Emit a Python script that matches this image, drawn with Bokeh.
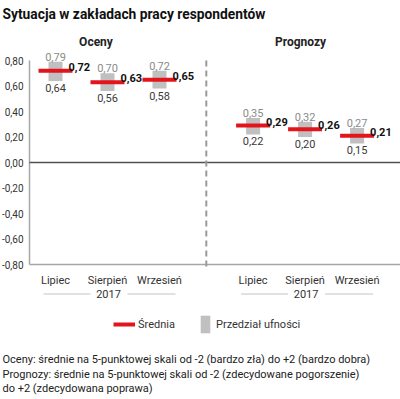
from bokeh.plotting import figure
from bokeh.models import (ColumnDataSource, Range1d, FixedTicker, Label,
                          Arrow, Legend, LegendItem)
from bokeh.core.properties import value
from bokeh.embed import file_html
from bokeh.resources import INLINE

# ---------------- data ----------------
title_text = "Sytuacja w zakładach pracy respondentów"
groups = ["Oceny", "Prognozy"]
months = ["Lipiec", "Sierpień", "Wrzesień"]
year_label = "2017"
oceny_mean = [0.72, 0.63, 0.65]
oceny_low = [0.64, 0.56, 0.58]
oceny_high = [0.79, 0.70, 0.72]
prognozy_mean = [0.29, 0.26, 0.21]
prognozy_low = [0.22, 0.20, 0.15]
prognozy_high = [0.35, 0.32, 0.27]
y_ticks = [-0.8, -0.6, -0.4, -0.2, 0.0, 0.2, 0.4, 0.6, 0.8]
y_tick_labels = ["-0,80", "-0,60", "-0,40", "-0,20", "0,00", "0,20", "0,40", "0,60", "0,80"]
legend_labels = ["Średnia", "Przedział ufności"]
footnotes = [
    "Oceny: średnie na 5-punktowej skali od -2 (bardzo zła) do +2 (bardzo dobra)",
    "Prognozy: średnie na 5-punktowej skali od -2 (zdecydowane pogorszenie)",
    "do +2 (zdecydowana poprawa)",
]

# ---------------- layout (pixel grid -> data units) ----------------
W, H = 400, 399
PX_X = 52.0          # px per category step
PX_Y = 127.5         # px per 1.0 of value
X0_REF = 55.0        # x of first category
Y0_REF = 162.0       # y of value 0
AXIS_L = 29
GROUP_SHIFT = 3.8
FONT = "Roboto"


def dx(px):
    return (px - X0_REF) / PX_X


def dy(py):
    return (Y0_REF - py) / PX_Y


def fmt(v):
    return f"{v:.2f}".replace(".", ",")


pos = [i for i in range(len(months))] + [i + GROUP_SHIFT for i in range(len(months))]
means = oceny_mean + prognozy_mean
lows = oceny_low + prognozy_low
highs = oceny_high + prognozy_high
labels = months + months

box_hw = 7 / PX_X
line_hw = 17 / PX_X

src = ColumnDataSource(dict(
    x=pos, mean=means, low=lows, high=highs,
    left=[p_ - box_hw for p_ in pos], right=[p_ + box_hw for p_ in pos],
    x0=[p_ - line_hw for p_ in pos], x1=[p_ + line_hw for p_ in pos],
    t_mean=[fmt(v) for v in means], t_low=[fmt(v) for v in lows],
    t_high=[fmt(v) for v in highs],
))

p = figure(width=W, height=H,
           x_range=Range1d(dx(0), dx(W)),
           y_range=Range1d(dy(H), dy(0)),
           output_backend="svg", toolbar_location=None,
           min_border_left=0, min_border_right=0,
           min_border_top=0, min_border_bottom=0)
p.outline_line_color = None
p.xgrid.visible = False
p.ygrid.visible = False
p.background_fill_color = None
p.border_fill_color = None

# axes (kept inside the frame at fixed locations)
ya = p.yaxis[0]
ya.ticker = FixedTicker(ticks=y_ticks)
ya.major_label_overrides = {t: l for t, l in zip(y_ticks, y_tick_labels)}
ya.bounds = (y_ticks[0], y_ticks[-1])
ya.fixed_location = dx(AXIS_L)
xa = p.xaxis[0]
xa.ticker = FixedTicker(ticks=pos)
xa.major_label_overrides = {t: l for t, l in zip(pos, labels)}
xa.bounds = (dx(AXIS_L), dx(W))
xa.fixed_location = y_ticks[0]
for ax in (xa, ya):
    ax.axis_line_color = "#a6a6a6"
    ax.axis_line_width = 1.5
    ax.major_tick_line_color = None
    ax.minor_tick_line_color = None
    ax.major_label_text_font = FONT
    ax.major_label_text_font_size = "11px"
    ax.major_label_text_color = "#333333"
ya.major_label_text_font_size = "10px"
ya.major_label_standoff = 0
xa.major_label_standoff = 3

# zero line
p.add_layout(Arrow(end=None, x_start=dx(AXIS_L), y_start=0, x_end=dx(W), y_end=0,
                   line_color="#505050", line_width=1.5))

# divider between groups
div_x = (pos[2] + pos[3]) / 2
p.add_layout(Arrow(end=None, x_start=div_x, y_start=y_ticks[-1], x_end=div_x,
                   y_end=dy(268), line_color="#9a9a9a", line_width=2, line_dash="6 4"))

# marks
boxes = p.quad(left="left", right="right", bottom="low", top="high", source=src,
               fill_color="#c0c0c0", line_color=None)
lines = p.segment(x0="x0", x1="x1", y0="mean", y1="mean", source=src,
                  line_color="#e3141b", line_width=4)

# value labels
p.text(x="x", y="high", text="t_high", source=src, text_align="center",
       text_baseline="alphabetic", y_offset=-5, text_font=value(FONT),
       text_font_size="11px", text_color="#8a8a8a")
p.text(x="x", y="low", text="t_low", source=src, text_align="center",
       text_baseline="top", y_offset=3, text_font=value(FONT),
       text_font_size="11px", text_color="#3a3a3a")
p.text(x="x", y="mean", text="t_mean", source=src, text_align="left",
       text_baseline="alphabetic", x_offset=13, y_offset=-4, text_font=value(FONT),
       text_font_size="11px", text_font_style="bold", text_color="#111111")

# group titles
gsrc = ColumnDataSource(dict(x=[dx(95.5), dx(300)], y=[dy(41), dy(41)], t=groups))
p.text(x="x", y="y", text="t", source=gsrc, text_align="center", text_baseline="middle",
       text_font=value(FONT), text_font_size="12px", text_font_style="bold",
       text_color="#222222")

# year labels with side rules
for g in range(len(groups)):
    c = pos[g * len(months) + 1]
    yy = dy(293.5)
    p.add_layout(Label(x=c + 1 / PX_X, y=yy, text=year_label, text_align="center",
                       text_baseline="middle", text_font=FONT, text_font_size="11px",
                       text_color="#333333"))
    for a, b in ((-64, -17), (20, 68)):
        p.add_layout(Arrow(end=None, x_start=c + a / PX_X, y_start=yy,
                           x_end=c + b / PX_X, y_end=yy,
                           line_color="#c4c4c4", line_width=1))

# title
p.add_layout(Label(x=dx(2), y=dy(13), text=title_text, text_align="left",
                   text_baseline="middle", text_font=FONT, text_font_size="13.8px",
                   text_font_style="bold", text_color="#111111"))

# footnotes
for txt, yp in zip(footnotes, (359, 373.5, 388)):
    p.add_layout(Label(x=dx(2), y=dy(yp), text=txt, text_align="left",
                       text_baseline="middle", text_font=FONT, text_font_size="11px",
                       text_color="#222222"))

# legends (location in px from the frame's bottom-left corner)
leg1 = Legend(items=[LegendItem(label=legend_labels[0], renderers=[lines])],
              location=(113, H - 333), orientation="horizontal",
              glyph_width=22, glyph_height=18, label_height=18, label_standoff=3,
              padding=0, margin=0, spacing=0, border_line_color=None,
              background_fill_alpha=0, label_text_font=FONT,
              label_text_font_size="11px", label_text_color="#333333")
leg2 = Legend(items=[LegendItem(label=legend_labels[1], renderers=[boxes])],
              location=(199, H - 335), orientation="horizontal",
              glyph_width=12, glyph_height=22, label_height=22, label_standoff=5,
              padding=0, margin=0, spacing=0, border_line_color=None,
              background_fill_alpha=0, label_text_font=FONT,
              label_text_font_size="11px", label_text_color="#333333")
p.add_layout(leg1)
p.add_layout(leg2)

open("out.html", "w").write(file_html(p, INLINE))
